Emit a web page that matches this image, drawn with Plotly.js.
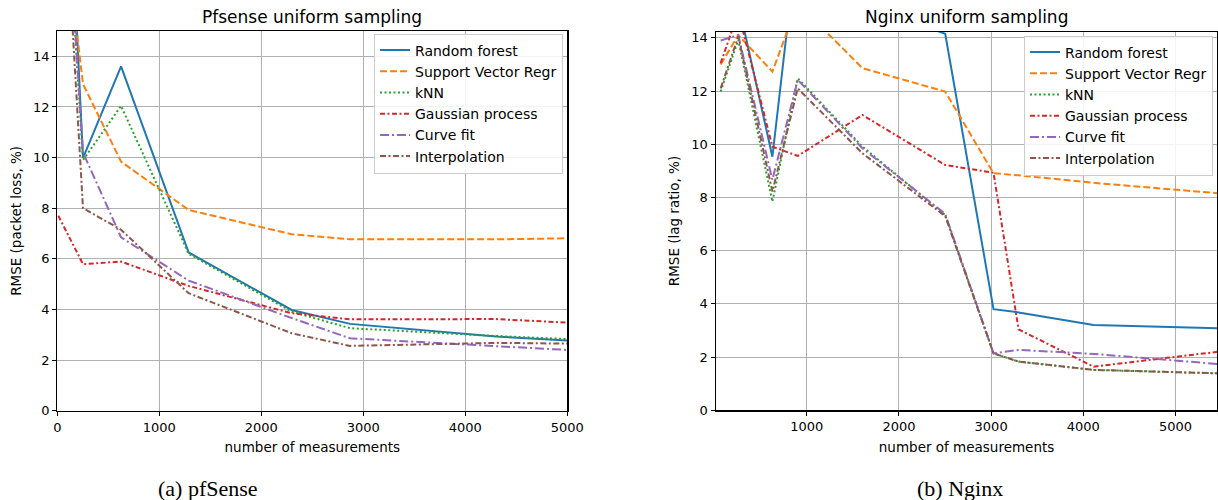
<!DOCTYPE html>
<html>
<head>
<meta charset="utf-8">
<script src="https://cdn.plot.ly/plotly-3.0.1.min.js"></script>
<style>
  html, body { margin: 0; padding: 0; background: #ffffff; }
  #chart { width: 1218px; height: 500px; }
</style>
</head>
<body>
<div id="chart"></div>
<script>
// ---- Series names ----
const seriesNames = ["Random forest", "Support Vector Regr", "kNN", "Gaussian process", "Curve fit", "Interpolation"];

// ---- pfSense (left) ----
const pfX   = [10, 252, 625, 1288, 2298, 2870, 4300, 5000];
const pfRF  = [30.5, 9.98, 13.6, 6.25, 3.98, 3.43, 2.93, 2.77];
const pfSVR = [21.1, 12.9, 9.84, 7.93, 6.97, 6.77, 6.77, 6.81];
const pfKNN = [25.5, 9.9, 12.04, 6.2, 3.91, 3.26, 2.95, 2.83];
const pfGP  = [7.70, 5.79, 5.89, 4.93, 3.85, 3.61, 3.62, 3.48];
const pfCF  = [25.5, 10.2, 6.85, 5.14, 3.66, 2.86, 2.55, 2.40];
const pfIP  = [24.8, 8.0, 7.15, 4.64, 3.06, 2.56, 2.68, 2.65];

// ---- Nginx (right) ----
const ngX   = [66, 257, 627, 902, 1604, 2502, 3026, 3298, 4112, 5460];
const ngRF  = [15.5, 15.3, 9.53, 17.8, 15.3, 14.15, 3.80, 3.68, 3.21, 3.08];
const ngSVR = [13.0, 14.1, 12.73, 15.3, 12.86, 11.98, 8.91, 8.83, 8.55, 8.16];
const ngKNN = [11.98, 13.92, 7.84, 12.48, 9.91, 7.34, 2.14, 1.83, 1.52, 1.39];
const ngGP  = [13.05, 14.96, 9.91, 9.56, 11.10, 9.22, 8.93, 3.04, 1.64, 2.20];
const ngCF  = [13.9, 14.1, 8.66, 12.42, 9.85, 7.38, 2.14, 2.27, 2.12, 1.74];
const ngIP  = [12.1, 14.05, 8.22, 12.1, 9.66, 7.30, 2.14, 1.83, 1.52, 1.39];

// ---- Tick labels ----
const pfXTicks = [0, 1000, 2000, 3000, 4000, 5000];
const ngXTicks = [1000, 2000, 3000, 4000, 5000];
const yTicks = [0, 2, 4, 6, 8, 10, 12, 14];

const colors = ["#1f77b4", "#ff7f0e", "#2ca02c", "#d62728", "#9467bd", "#8c564b"];
const dashes = ["solid", "7px,3px", "2px,2.5px", "5px,2.5px,2px,2.5px", "9px,3px,2px,3px", "6px,2.5px,2px,2.5px"];

const FONT = "DejaVu Sans, sans-serif";

function makeTraces(x, ys, xa, ya, legendName) {
  return ys.map((y, i) => ({
    type: "scatter",
    mode: "lines",
    x: x, y: y,
    name: seriesNames[i],
    xaxis: xa, yaxis: ya,
    legend: legendName,
    cliponaxis: true,
    line: { color: colors[i], width: 2, dash: dashes[i] }
  }));
}

const traces = []
  .concat(makeTraces(pfX, [pfRF, pfSVR, pfKNN, pfGP, pfCF, pfIP], "x", "y", "legend"))
  .concat(makeTraces(ngX, [ngRF, ngSVR, ngKNN, ngGP, ngCF, ngIP], "x2", "y2", "legend2"));

function axis(extra) {
  return Object.assign({
    showline: true, mirror: true, linecolor: "#000000", linewidth: 1.2,
    showgrid: true, gridcolor: "#b0b0b0", gridwidth: 1,
    zeroline: false,
    ticks: "outside", ticklen: 4, tickwidth: 1, tickcolor: "#000000",
    tickfont: { family: FONT, size: 13, color: "#000000" },
    fixedrange: true
  }, extra);
}

const W = 1218, H = 500;
const legendCommon = {
  font: { family: FONT, size: 14, color: "#000000" },
  bgcolor: "rgba(255,255,255,0.85)",
  bordercolor: "#cccccc", borderwidth: 1,
  xanchor: "right", yanchor: "top",
  tracegroupgap: 0, itemwidth: 30
};

const layout = {
  width: W, height: H,
  margin: { l: 0, r: 0, t: 0, b: 0 },
  paper_bgcolor: "#ffffff", plot_bgcolor: "#ffffff",
  font: { family: FONT, size: 13, color: "#000000" },
  showlegend: true,
  xaxis: axis({
    domain: [57.3 / W, 567.3 / W], range: [0, 5000], anchor: "y",
    tickvals: pfXTicks, ticktext: pfXTicks.map(String),
    title: { text: "number of measurements", font: { family: FONT, size: 13.5 }, standoff: 9 }
  }),
  yaxis: axis({
    domain: [1 - 410.7 / H, 1 - 31 / H], range: [0, 15], anchor: "x",
    tickvals: yTicks, ticktext: yTicks.map(String),
    title: { text: "RMSE (packet loss, %)", font: { family: FONT, size: 13.5 }, standoff: 8 }
  }),
  xaxis2: axis({
    domain: [715.7 / W, 1217.4 / W], range: [12, 5455], anchor: "y2",
    tickvals: ngXTicks, ticktext: ngXTicks.map(String),
    title: { text: "number of measurements", font: { family: FONT, size: 13.5 }, standoff: 9 }
  }),
  yaxis2: axis({
    domain: [1 - 410.3 / H, 1 - 31.7 / H], range: [0, 14.23], anchor: "x2",
    tickvals: yTicks, ticktext: yTicks.map(String),
    title: { text: "RMSE (lag ratio, %)", font: { family: FONT, size: 13.5 }, standoff: 8 }
  }),
  legend: Object.assign({ x: 563 / W, y: 1 - 33.5 / H }, legendCommon),
  legend2: Object.assign({ x: 1213 / W, y: 1 - 35.5 / H }, legendCommon),
  annotations: [
    { text: "Pfsense uniform sampling", xref: "paper", yref: "paper",
      x: 312.3 / W, y: 1 - 17 / H, xanchor: "center", yanchor: "middle",
      showarrow: false, font: { family: FONT, size: 17, color: "#000000" } },
    { text: "Nginx uniform sampling", xref: "paper", yref: "paper",
      x: 966.9 / W, y: 1 - 17 / H, xanchor: "center", yanchor: "middle",
      showarrow: false, font: { family: FONT, size: 17, color: "#000000" } },
    { text: "(a) pfSense", xref: "paper", yref: "paper",
      x: 208 / W, y: 1 - 488 / H, xanchor: "center", yanchor: "middle",
      showarrow: false, font: { family: "Liberation Serif, DejaVu Serif, serif", size: 22, color: "#000000" } },
    { text: "(b) Nginx", xref: "paper", yref: "paper",
      x: 960 / W, y: 1 - 488 / H, xanchor: "center", yanchor: "middle",
      showarrow: false, font: { family: "Liberation Serif, DejaVu Serif, serif", size: 22, color: "#000000" } }
  ]
};

Plotly.newPlot("chart", traces, layout, { displayModeBar: false, staticPlot: true });
</script>
</body>
</html>
